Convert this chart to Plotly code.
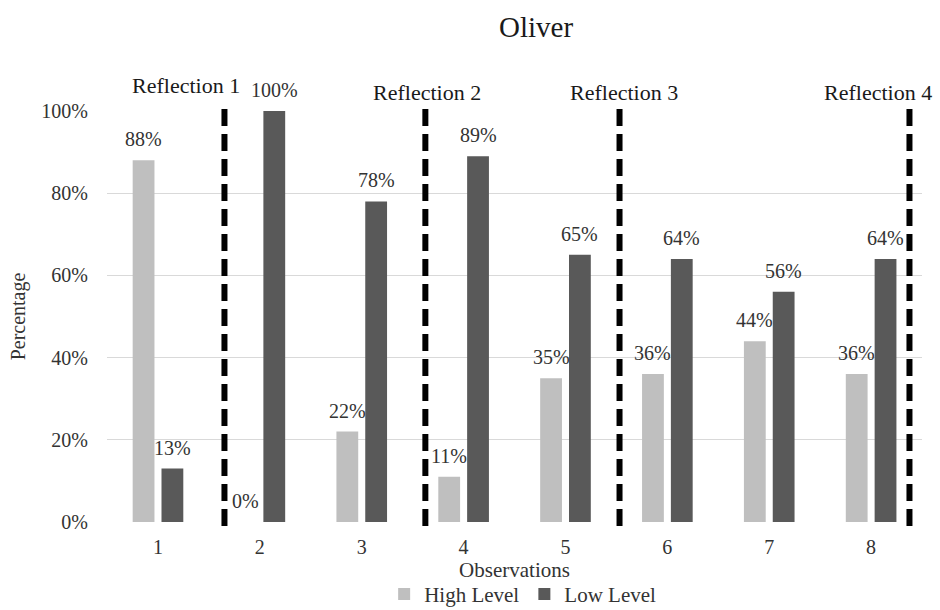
import plotly.graph_objects as go

# Share of observed talk at each level, per observation session
observations = [1, 2, 3, 4, 5, 6, 7, 8]
high_level = [0.88, 0.00, 0.22, 0.11, 0.35, 0.36, 0.44, 0.36]
low_level = [0.13, 1.00, 0.78, 0.89, 0.65, 0.64, 0.56, 0.64]

y_ticks = [0, 0.2, 0.4, 0.6, 0.8, 1.0]
y_tick_labels = ["0%", "20%", "40%", "60%", "80%", "100%"]

# Reflection meetings, marked on the observation axis
reflection_names = ["Reflection 1", "Reflection 2", "Reflection 3", "Reflection 4"]
reflection_at = [1.653, 3.625, 5.531, 8.377]

FONT = "Liberation Serif"
TEXT = "#333333"
HIGH_COLOR = "#bfbfbf"
LOW_COLOR = "#595959"

BAR_W = 0.214
HIGH_OFFSET = -0.248
LOW_OFFSET = 0.035

fig = go.Figure()
fig.add_trace(go.Bar(
    x=observations, y=high_level, name="High Level",
    width=BAR_W, offset=HIGH_OFFSET,
    marker=dict(color=HIGH_COLOR, line=dict(width=0)),
))
fig.add_trace(go.Bar(
    x=observations, y=low_level, name="Low Level",
    width=BAR_W, offset=LOW_OFFSET,
    marker=dict(color=LOW_COLOR, line=dict(width=0)),
))

annotations = []

# value labels above each bar
for values, offset in ((high_level, HIGH_OFFSET), (low_level, LOW_OFFSET)):
    for obs, v in zip(observations, values):
        annotations.append(dict(
            x=obs + offset + BAR_W / 2, y=v, xref="x", yref="y",
            text=f"{round(v * 100)}%", showarrow=False,
            yanchor="bottom", yshift=8,
            font=dict(family=FONT, size=20, color=TEXT),
        ))

# reflection markers: dashed separators with their captions
reflection_label_x = [1.28, 3.645, 5.57, 8.07]
reflection_label_y = [1.063, 1.044, 1.044, 1.044]
shapes = []
for name, pos, lx, ly in zip(reflection_names, reflection_at,
                              reflection_label_x, reflection_label_y):
    shapes.append(dict(
        type="line", xref="x", yref="paper", x0=pos, x1=pos, y0=-0.01, y1=1.02,
        line=dict(color="black", width=6, dash="17px,8px"),
    ))
    annotations.append(dict(
        x=lx, y=ly, xref="x", yref="paper", text=name, showarrow=False,
        yanchor="middle", xanchor="center",
        font=dict(family=FONT, size=22, color="#1a1a1a"),
    ))

# chart title
annotations.append(dict(
    x=0.526, y=1.204, xref="paper", yref="paper", text="Oliver",
    showarrow=False, xanchor="center", yanchor="middle",
    font=dict(family=FONT, size=29, color="#1a1a1a"),
))

fig.update_layout(
    width=940, height=610,
    margin=dict(l=107, r=18, t=111, b=88, autoexpand=False),
    paper_bgcolor="white", plot_bgcolor="white",
    barmode="overlay",
    font=dict(family=FONT, size=20, color=TEXT),
    shapes=shapes,
    annotations=annotations,
    showlegend=True,
    legend=dict(
        orientation="h", x=0.51, xanchor="center", y=-0.176, yanchor="middle",
        font=dict(family=FONT, size=21, color=TEXT),
        itemwidth=30, bgcolor="rgba(0,0,0,0)",
    ),
    xaxis=dict(
        range=[0.5, 8.5], tickmode="array", tickvals=observations,
        ticktext=[str(o) for o in observations],
        showgrid=False, zeroline=False, showline=False, ticks="",
        ticklabelstandoff=11,
        tickfont=dict(family=FONT, size=20, color=TEXT),
        title=dict(text="Observations", standoff=2,
                   font=dict(family=FONT, size=21, color=TEXT)),
    ),
    yaxis=dict(
        range=[0, 1], tickmode="array", tickvals=y_ticks, ticktext=y_tick_labels,
        showgrid=True, gridcolor="#d9d9d9", gridwidth=1,
        zeroline=False, showline=False, ticks="",
        ticklabelstandoff=18,
        tickfont=dict(family=FONT, size=20, color=TEXT),
        title=dict(text="Percentage", standoff=10,
                   font=dict(family=FONT, size=20, color=TEXT)),
    ),
)

fig.write_html("out.html")
